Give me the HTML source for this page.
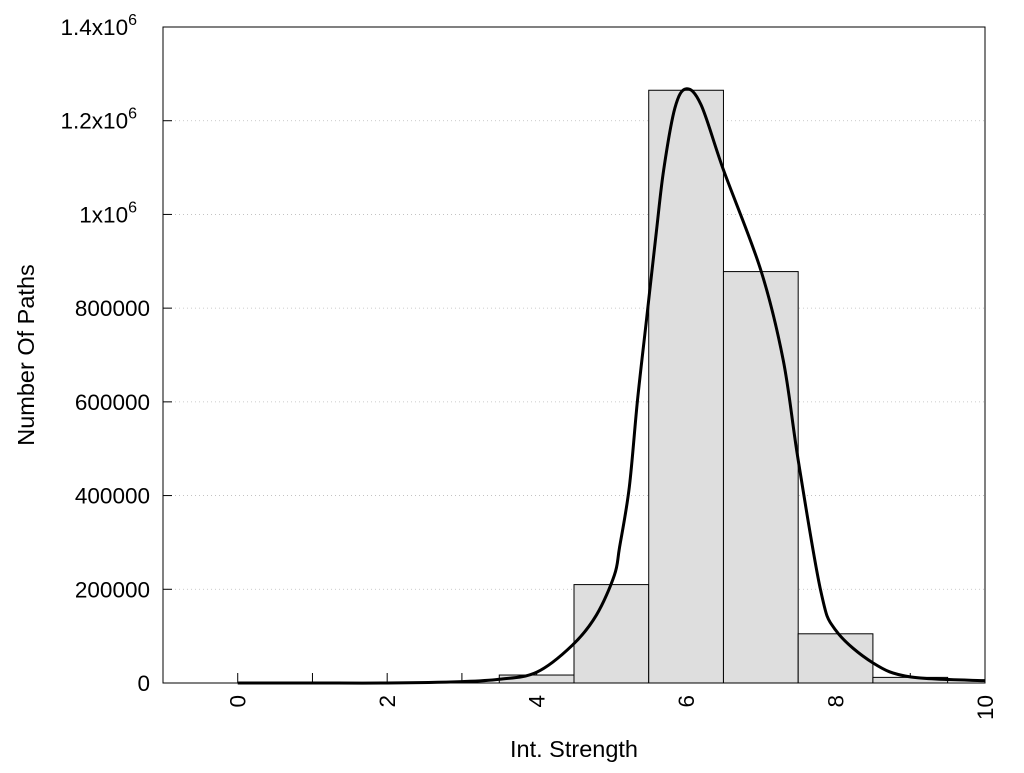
<!DOCTYPE html>
<html><head><meta charset="utf-8"><style>
body{margin:0;background:#fff;font-family:"Liberation Sans",Arial,sans-serif}
</style></head><body>
<svg id="chart" width="1024" height="768" xmlns="http://www.w3.org/2000/svg" font-family="Liberation Sans, Arial, sans-serif">
<g id="grid"></g>
<g id="ticks"></g>
<g id="bars"></g>
<g id="curve"></g>
<g id="axes"></g>
<text x="574" y="757" font-size="23.5" text-anchor="middle">Int. Strength</text>
<text transform="translate(34,355) rotate(-90)" font-size="23.5" text-anchor="middle">Number Of Paths</text>
</svg>
<script>
const barCenters=[4,5,6,7,8,9];
const barValues=[17000,210000,1265000,878000,105000,12000];
const curveX=[0,1,2,3,3.5,4,4.48,4.8,5.04,5.11,5.24,5.35,5.47,5.6,5.7,5.85,6,6.2,6.5,7,7.3,7.5,7.8,8,8.5,9,10];
const curveY=[0,0,0,3000,8000,23000,81000,145000,230000,290000,418000,604000,775000,960000,1095000,1227000,1268000,1234000,1095000,881000,689000,476000,198000,113000,43000,13000,5000];
const yTicks=[0,200000,400000,600000,800000,1000000,1200000,1400000];
const yTickLabels=["0","200000","400000","600000","800000","1x10|6","1.2x10|6","1.4x10|6"];
const xTicks=[0,2,4,6,8,10];
const xMinor=[0,1,2,3,4,5,6,7,8,9,10];
const L=163,R=985,T=27,B=683,xmin=-1,xmax=10,ymax=1400000;
const sx=v=>L+(v-xmin)/(xmax-xmin)*(R-L);
const sy=v=>B-v/ymax*(B-T);
const NS="http://www.w3.org/2000/svg";
function mk(tag,attrs,parent){const e=document.createElementNS(NS,tag);for(const k in attrs)e.setAttribute(k,attrs[k]);document.getElementById(parent).appendChild(e);return e;}
yTicks.forEach((t,i)=>{
  if(i>0&&i<yTicks.length-1){const g=mk('line',{x1:L,x2:R,y1:sy(t),y2:sy(t),stroke:'#bbb','stroke-width':0.8,'stroke-dasharray':'1,3'},'grid');
  
  }
  const tk=mk('line',{x1:L,x2:L+9,y1:sy(t),y2:sy(t),stroke:'#000'},'axes');
  
  
  const parts=yTickLabels[i].split('|');
  const tx=mk('text',{x:150,y:sy(t)+8,'font-size':22.5,'text-anchor':'end'},'axes');
  
  
  if(parts.length>1){tx.setAttribute('x',137);tx.textContent=parts[0];
    const s=document.createElementNS(NS,'tspan');s.setAttribute('dy',-10);s.setAttribute('font-size',16);s.textContent=parts[1];tx.appendChild(s);}
  else tx.textContent=parts[0];
});
xMinor.forEach(t=>{const tk=mk('line',{x1:sx(t),x2:sx(t),y1:B,y2:B-10,stroke:'#000'},'ticks');
  
  });
barCenters.forEach((c,i)=>{
  const r=mk('rect',{x:sx(c-0.5),y:sy(barValues[i]),width:sx(c+0.5)-sx(c-0.5),height:B-sy(barValues[i]),fill:'#dedede',stroke:'#000','stroke-width':1},'bars');
  
  
});
xTicks.forEach(t=>{const tx=mk('text',{transform:`translate(${sx(t)+8},${B+12}) rotate(-90)`,'font-size':22.5,'text-anchor':'end'},'axes');
  
  
  tx.textContent=t;});
const P=curveX.map((x,i)=>[sx(x),sy(curveY[i])]);
let d=`M${P[0][0]},${P[0][1]}`;
for(let i=0;i<P.length-1;i++){const p0=P[i-1]||P[i],p1=P[i],p2=P[i+1],p3=P[i+2]||P[i+1];
  d+=` C${p1[0]+(p2[0]-p0[0])/6},${p1[1]+(p2[1]-p0[1])/6} ${p2[0]-(p3[0]-p1[0])/6},${p2[1]-(p3[1]-p1[1])/6} ${p2[0]},${p2[1]}`;}
const cp=mk('path',{d:d,fill:'none',stroke:'#000','stroke-width':3},'curve');


const fr=mk('rect',{x:L,y:T,width:R-L,height:B-T,fill:'none',stroke:'#000','stroke-width':1},'axes');


</script>
</body></html>
